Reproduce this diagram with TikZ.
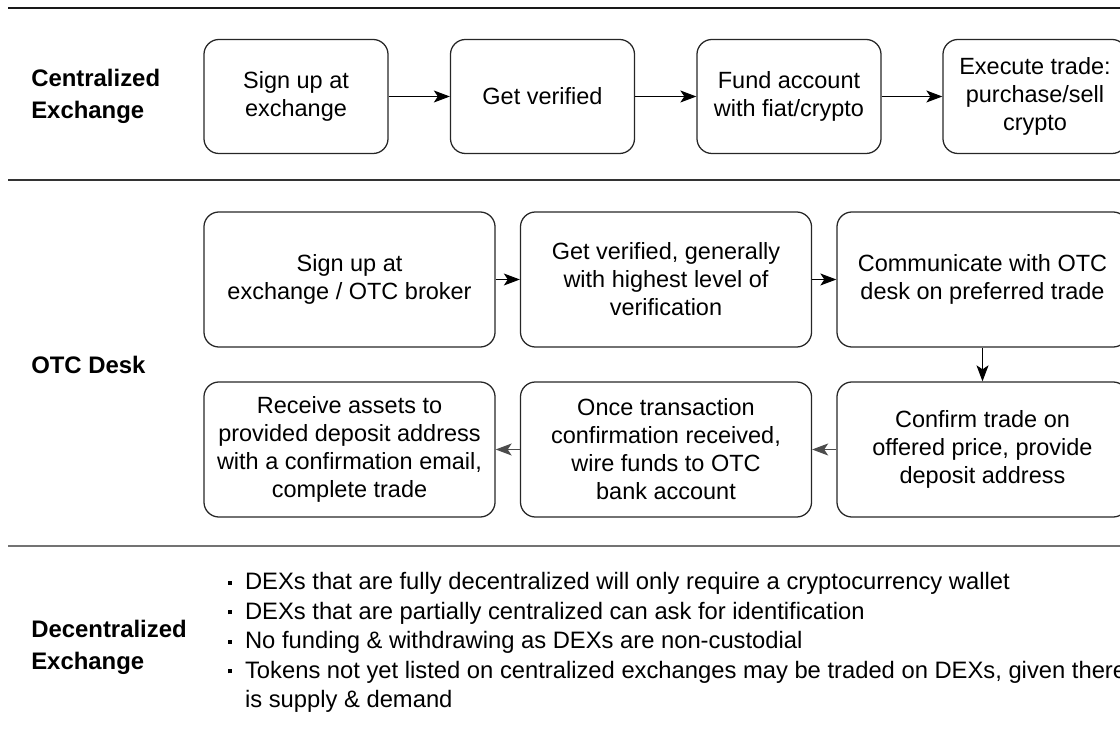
\documentclass[tikz,border=0pt]{standalone}
\usepackage{fontspec}
\setmainfont{Liberation Sans}
\usetikzlibrary{arrows.meta}
\newcommand{\boxfont}{\fontsize{16.7}{19.9}\selectfont}
\newcommand{\listfont}{\fontsize{16.9}{20}\selectfont}
\newcommand{\labelfont}{\fontsize{17}{22.8}\selectfont\bfseries}
\newcommand{\dexbullet}{\makebox[0.42cm][l]{\rule[0.22em]{0.1cm}{0.1cm}}}
\tikzset{
stage/.style={draw=black!85, line width=0.9pt, rounded corners=0.375cm, align=center, inner sep=0pt, font=\boxfont},
cexbox/.style={stage, minimum width=4.6cm, minimum height=2.85cm},
otcbox/.style={stage, minimum width=7.275cm, minimum height=3.375cm},
rowlabel/.style={anchor=west, align=left, inner sep=0pt, font=\labelfont},
flow/.style={draw=black, line width=0.7pt, -{Stealth[length=4mm, width=3mm, inset=1mm]}},
dexline/.style={anchor=base west, inner sep=0pt, font=\listfont},
}

\begin{document}
\begin{tikzpicture}[x=0.025cm, y=-0.025cm]
		\useasboundingbox (0,0) rectangle (1120,740);
		\clip (0,0) rectangle (1120,740);
		\draw [line width=1.8pt, black!90] (8,8) -- (1120,8);
		\draw [line width=1pt, black!80] (8,180) -- (1120,180);
		\draw [line width=1pt, black!55] (8,546) -- (1120,546);

		\node (cexlabel) [rowlabel] at (31, 96) {Centralized\\Exchange};
		\node (otclabel) [rowlabel] at (31, 365) {OTC Desk};
		\node (dexlabel) [rowlabel] at (31, 647) {Decentralized\\Exchange};

		\node (c1) [cexbox] at (296, 96.5) {Sign up at\\exchange};
		\node (c2) [cexbox] at (542.5, 96.5) {Get verified};
		\node (c3) [cexbox] at (789, 96.5) {Fund account\\with fiat/crypto};
		\node (c4) [cexbox] at (1035, 96.5) {Execute trade:\\purchase/sell\\crypto};
		\draw [style=flow] (c1) to (c2);
		\draw [style=flow] (c2) to (c3);
		\draw [style=flow] (c3) to (c4);

		\node (o1) [otcbox] at (349.5, 279.5) {Sign up at\\exchange / OTC broker};
		\node (o2) [otcbox] at (666, 279.5) {Get verified, generally\\with highest level of\\verification};
		\node (o3) [otcbox] at (982.5, 279.5) {Communicate with OTC\\desk on preferred trade};
		\node (o4) [otcbox] at (982.5, 449.5) {Confirm trade on\\offered price, provide\\deposit address};
		\node (o5) [otcbox] at (666, 449.5) {Once transaction\\confirmation received,\\wire funds to OTC\\bank account};
		\node (o6) [otcbox] at (349.5, 449.5) {Receive assets to\\provided deposit address\\with a confirmation email,\\complete trade};
		\draw [style=flow] (o1) to (o2);
		\draw [style=flow] (o2) to (o3);
		\draw [style=flow] (o3) to (o4);
		\draw [style=flow, draw=black!70] (o4) to (o5);
		\draw [style=flow, draw=black!70] (o5) to (o6);

		\node (d1) [dexline] at (228, 590) {\dexbullet DEXs that are fully decentralized will only require a cryptocurrency wallet};
		\node (d2) [dexline] at (228, 619.5) {\dexbullet DEXs that are partially centralized can ask for identification};
		\node (d3) [dexline] at (228, 649) {\dexbullet No funding \& withdrawing as DEXs are non-custodial};
		\node (d4) [dexline] at (228, 678.5) {\dexbullet Tokens not yet listed on centralized exchanges may be traded on DEXs, given there};
		\node (d5) [dexline] at (228, 708) {\hspace{0.42cm}is supply \& demand};
	\end{tikzpicture}
\end{document}
